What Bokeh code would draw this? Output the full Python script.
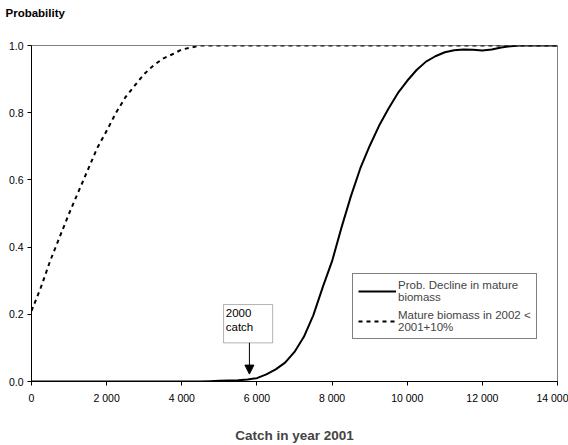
from bokeh.plotting import figure
from bokeh.models import (Range1d, FixedTicker, Legend, LegendItem, Label,
                          BoxAnnotation, Arrow, NormalHead, Title)
from bokeh.embed import file_html
from bokeh.resources import INLINE

# Catch in 2001 (tonnes) and the probabilities for each outcome
decline_catch = [0, 4500, 4750, 5000, 5250, 5500, 5750, 6000, 6250, 6500, 6750,
                 7000, 7250, 7500, 7750, 8000, 8250, 8500, 8750, 9000, 9250,
                 9500, 9750, 10000, 10250, 10500, 10750, 11000, 11250, 11500,
                 11750, 12000, 12250, 12500, 12750, 13000, 14000]
decline_prob = [0.0, 0.0, 0.001, 0.002, 0.003, 0.004, 0.006, 0.01, 0.021, 0.036,
                0.056, 0.088, 0.133, 0.197, 0.28, 0.358, 0.458, 0.551, 0.634,
                0.701, 0.761, 0.812, 0.858, 0.895, 0.927, 0.952, 0.968, 0.98,
                0.986, 0.988, 0.987, 0.985, 0.988, 0.994, 0.998, 1.0, 1.0]

growth_catch = [0, 250, 500, 750, 1000, 1250, 1500, 1750, 2000, 2250, 2500,
                2750, 3000, 3250, 3500, 3750, 4000, 4250, 4500, 14000]
growth_prob = [0.21, 0.28, 0.36, 0.43, 0.50, 0.565, 0.63, 0.695, 0.746, 0.80,
               0.846, 0.881, 0.915, 0.941, 0.961, 0.974, 0.988, 0.994, 1.0, 1.0]

catch_2000 = 5800

x_ticks = [0, 2000, 4000, 6000, 8000, 10000, 12000, 14000]
x_tick_labels = ["0", "2 000", "4 000", "6 000", "8 000", "10 000", "12 000", "14 000"]
y_ticks = [0.0, 0.2, 0.4, 0.6, 0.8, 1.0]
y_tick_labels = ["0.0", "0.2", "0.4", "0.6", "0.8", "1.0"]

FONT = "Liberation Sans"

p = figure(width=568, height=445, output_backend="svg", toolbar_location=None,
           x_range=Range1d(0, 14000), y_range=Range1d(0, 1.0),
           min_border_left=31, min_border_right=11, min_border_top=45,
           min_border_bottom=60)

# Y-axis caption sits above the plot area at the top-left corner;
# an empty title row between them keeps it clear of the frame.
p.title.text = "Probability"
p.title.text_font = FONT
p.title.text_font_size = "11.5px"
p.title.text_font_style = "bold"
p.title.text_color = "black"
p.title.align = "left"
p.title.offset = -26
p.title.standoff = 0
p.add_layout(Title(text=" ", text_font_size="22px", standoff=0), "above")

p.xgrid.visible = False
p.ygrid.visible = False
p.outline_line_color = "#808080"
p.outline_line_width = 1
p.background_fill_color = "white"
p.border_fill_color = "white"

p.xaxis.ticker = FixedTicker(ticks=x_ticks)
p.xaxis.major_label_overrides = dict(zip(x_ticks, x_tick_labels))
p.yaxis.ticker = FixedTicker(ticks=y_ticks)
p.yaxis.major_label_overrides = dict(zip(y_ticks, y_tick_labels))

for ax in (p.xaxis[0], p.yaxis[0]):
    ax.axis_line_color = "black"
    ax.major_tick_line_color = "black"
    ax.major_tick_out = 4
    ax.major_tick_in = 0
    ax.minor_tick_line_color = None
    ax.major_label_text_font = FONT
    ax.major_label_text_font_size = "10.5px"
    ax.major_label_text_color = "black"

p.xaxis.major_label_standoff = 6
p.yaxis.major_label_standoff = 4
p.xaxis.axis_label = "Catch in year 2001"
p.xaxis.axis_label_text_font = FONT
p.xaxis.axis_label_text_font_size = "13.5px"
p.xaxis.axis_label_text_font_style = "bold"
p.xaxis.axis_label_standoff = 21

decline = p.line(decline_catch, decline_prob, line_color="black", line_width=2)
growth = p.line(growth_catch, growth_prob, line_color="black", line_width=2,
                line_dash="4 4")

legend = Legend(items=[
    LegendItem(label="Prob. Decline in mature\nbiomass", renderers=[decline]),
    LegendItem(label="Mature biomass in 2002 <\n2001+10%", renderers=[growth]),
], location=(321, 42))
legend.label_text_font = FONT
legend.label_text_font_size = "11.5px"
legend.label_text_line_height = 1.2
legend.label_standoff = 2
legend.glyph_width = 38
legend.glyph_height = 14
legend.spacing = 6
legend.padding = 5
legend.margin = 0
legend.border_line_color = "black"
legend.border_line_width = 1
legend.background_fill_alpha = 1
p.add_layout(legend, "center")

# Callout for the 2000 catch level
p.add_layout(BoxAnnotation(left=5112, right=6419, top=0.229, bottom=0.115,
                           fill_color="white", fill_alpha=1,
                           line_color="black", line_width=1))
p.add_layout(Label(x=5170, y=0.222, text="2000\ncatch", text_align="left",
                   text_baseline="top", text_font=FONT, text_font_size="11.5px",
                   text_color="black"))
p.add_layout(Arrow(end=NormalHead(size=9, fill_color="black", line_color="black"),
                   x_start=catch_2000, y_start=0.115, x_end=catch_2000, y_end=0.022,
                   line_color="black", line_width=1))

open("out.html", "w").write(file_html(p, INLINE))
